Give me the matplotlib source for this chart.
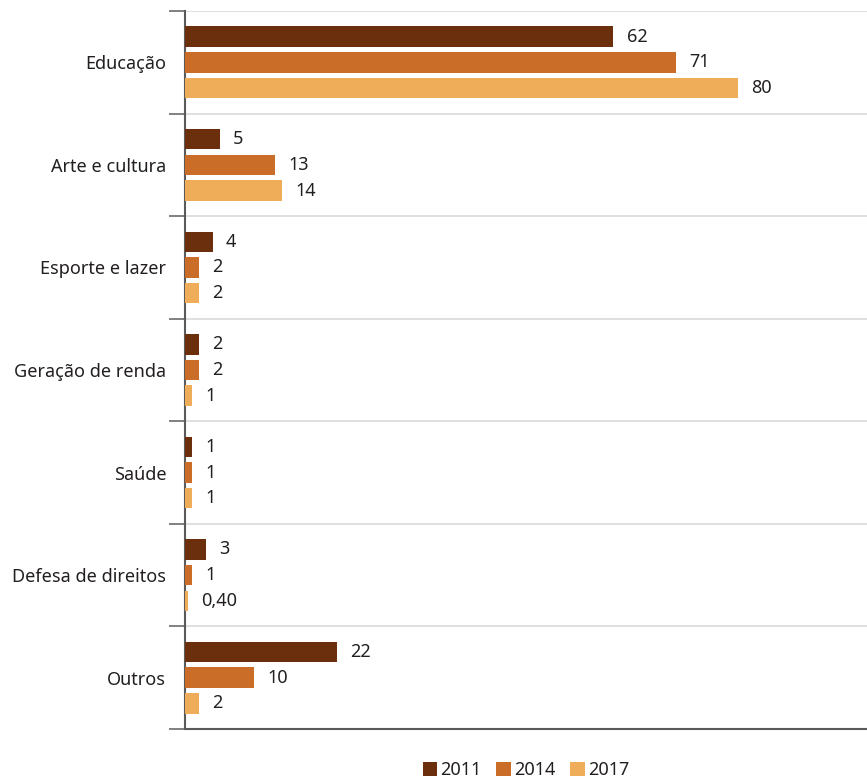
import numpy as np
import matplotlib
matplotlib.use("Agg")
import matplotlib.pyplot as plt

plt.rcParams['font.family'] = ['Noto Sans', 'DejaVu Sans']

categories = ["Educação", "Arte e cultura", "Esporte e lazer", "Geração de renda",
              "Saúde", "Defesa de direitos", "Outros"]
years = ["2011", "2014", "2017"]
v2011 = [62, 5, 4, 2, 1, 3, 22]
v2014 = [71, 13, 2, 2, 1, 1, 10]
v2017 = [80, 14, 2, 1, 1, 0.40, 2]
colors = ["#6B2F0E", "#C96D28", "#EFAD5A"]

fig = plt.figure(figsize=(8.67, 7.78), dpi=100)
ax = fig.add_axes([185 / 867, 1 - 729 / 778, 1 - 185 / 867, (729 - 11) / 778])

pos = np.arange(len(categories))
txt = "#231F20"
for k, (vals, c, yr) in enumerate(zip([v2011, v2014, v2017], colors, years)):
    y = pos + (k - 1) * 0.25
    ax.barh(y, vals, height=0.2, color=c, label=yr, zorder=3)
    for yy, v in zip(y, vals):
        lab = f"{v:.2f}".replace(".", ",") if v < 1 else f"{v:g}"
        ax.annotate(lab, (v, yy), xytext=(9.5, 0), textcoords="offset points",
                    ha="left", va="center", fontsize=13, color=txt)

ax.set_xlim(0, 98.7)
ax.set_ylim(len(categories) - 0.5, -0.5)
ax.set_xticks([])
ax.set_yticks(pos)
ax.set_yticklabels(categories, fontsize=13, color=txt)
ax.tick_params(axis="y", which="major", length=0, pad=13.5)
ax.set_yticks(np.arange(-0.5, len(categories) + 0.5, 1), minor=True)
ax.tick_params(axis="y", which="minor", length=11.5, width=1.2, color="#6b6b6b")
ax.grid(axis="y", which="minor", color="#d9d9d9", linewidth=1.2, zorder=0)

for s in ["top", "right"]:
    ax.spines[s].set_visible(False)
ax.spines["left"].set_color("#5a5a5a")
ax.spines["left"].set_linewidth(1.5)
ax.spines["bottom"].set_color("#5a5a5a")
ax.spines["bottom"].set_linewidth(1.5)

ax.legend(loc="center", bbox_to_anchor=(0.5, -0.057), ncol=3, frameon=False,
          fontsize=13, handlelength=0.8, handleheight=0.8, handletextpad=0.2,
          columnspacing=0.8, borderpad=0, labelcolor=txt)

fig.savefig("out.png", dpi=100)
